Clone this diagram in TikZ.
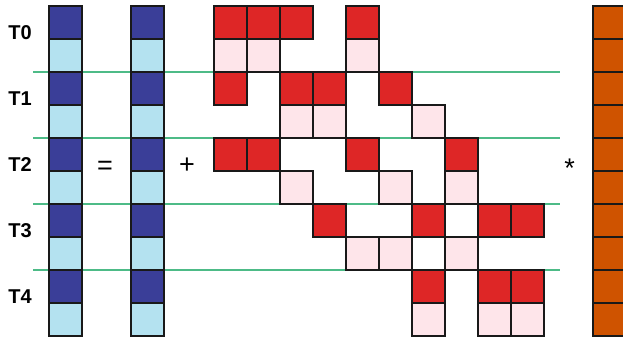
\documentclass[tikz,border=0pt]{standalone}
\usepackage{fontspec}
\setmainfont{Liberation Sans}
\definecolor{darkblue}{RGB}{58,62,152}
\definecolor{lightblue}{RGB}{180,226,240}
\definecolor{cellred}{RGB}{222,38,38}
\definecolor{cellpink}{RGB}{254,229,234}
\definecolor{cellorange}{RGB}{207,83,0}
\definecolor{sepgreen}{RGB}{77,187,135}
\tikzset{
  cell/.style={draw=black!90, line width=2.2pt},
  sepline/.style={draw=sepgreen, line width=1.8pt},
  rowlabel/.style={font=\fontsize{20}{24}\selectfont\bfseries, inner sep=0pt},
  opsign/.style={font=\fontsize{27}{30}\selectfont, inner sep=0pt}
}
\begin{document}
\begin{tikzpicture}[x=1pt, y=-1pt]
            \useasboundingbox (0,0) rectangle (623,337);
            \clip (0,0) rectangle (623,337);
            % separators between the time steps
            \foreach \k in {1,2,3,4} \draw[sepline] (33,6+66*\k) -- (560,6+66*\k);
            % the two vectors and the right-hand vector
            \foreach \i in {0,...,9} {
                \pgfmathsetmacro{\top}{6+33*\i}
                \ifodd\i \def\vcol{lightblue}\else \def\vcol{darkblue}\fi
                \draw[cell, fill=\vcol] (49,\top) rectangle ++(33,33);
                \draw[cell, fill=\vcol] (131,\top) rectangle ++(33,33);
                \draw[cell, fill=cellorange] (593,\top) rectangle ++(33,33);
            }
            % matrix entries, row/columns
            \foreach \r/\cols in {0/{0,1,2,4}, 1/{0,1,4}, 2/{0,2,3,5}, 3/{2,3,6}, 4/{0,1,4,7},
                                  5/{2,5,7}, 6/{3,6,8,9}, 7/{4,5,7}, 8/{6,8,9}, 9/{6,8,9}} {
                \ifodd\r \def\mcol{cellpink}\else \def\mcol{cellred}\fi
                \foreach \c in \cols
                    \draw[cell, fill=\mcol] (214+33*\c,6+33*\r) rectangle ++(33,33);
            }
            % labels and operators
            \foreach \k in {0,...,4} \node[rowlabel] (lblT\k) at (20,33+66*\k) {T\k};
            \node[opsign] (eq) at (105,168) {=};
            \node[opsign] (plus) at (187,166) {+};
            \node[opsign] (times) at (569.5,168.5) {*};
        \end{tikzpicture}
\end{document}
